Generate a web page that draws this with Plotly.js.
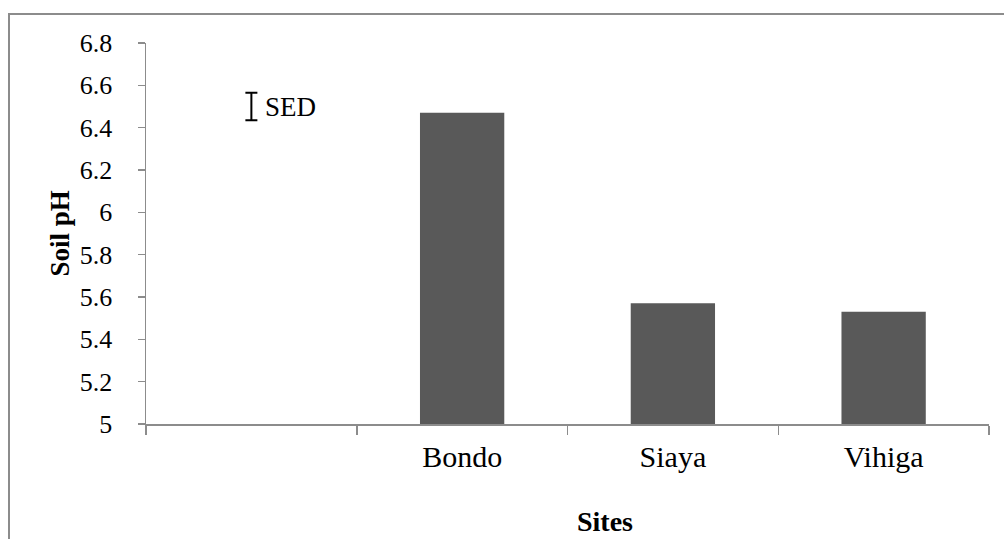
<!DOCTYPE html>
<html>
<head>
<meta charset="utf-8">
<script src="https://cdn.plot.ly/plotly-3.0.1.min.js"></script>
<style>
  html, body { margin: 0; padding: 0; background: #ffffff; }
  #wrap { position: relative; width: 1004px; height: 539px; overflow: hidden; }
  #chart { position: absolute; left: 0; top: 0; width: 1004px; height: 539px; }
  #frame { position: absolute; left: 8px; top: 13px; width: 1100px; height: 700px;
           border-left: 2px solid #8c8c8c; border-top: 2px solid #8c8c8c; pointer-events: none; }
</style>
</head>
<body>
<div id="wrap">
  <div id="chart"></div>
  <div id="frame"></div>
</div>
<script>
// ---- data ----
const categories = [" ", "Bondo", "Siaya", "Vihiga"];
const soilPH = [null, 6.47, 5.57, 5.53];
const sedCategory = [" "];
const sedCentre = [6.5];
const sedHalf = [0.065];
const sedLabel = "SED";
const yTitle = "Soil pH";
const xTitle = "Sites";

const serif = "Liberation Serif";
const axisGray = "#8c8c8c";

const traces = [
  {
    type: "bar",
    x: categories,
    y: soilPH,
    marker: { color: "#595959", line: { width: 0 } },
    hoverinfo: "x+y",
    showlegend: false
  },
  {
    type: "scatter",
    mode: "markers",
    x: sedCategory,
    y: sedCentre,
    marker: { size: 1, opacity: 0 },
    error_y: { type: "data", array: sedHalf, visible: true, color: "#000000", thickness: 2, width: 6 },
    showlegend: false,
    hoverinfo: "skip"
  }
];

const layout = {
  width: 1004,
  height: 539,
  margin: { l: 146, r: 15, t: 43, b: 115 },
  paper_bgcolor: "#ffffff",
  plot_bgcolor: "#ffffff",
  font: { family: serif, color: "#000000" },
  bargap: 0.6,
  showlegend: false,
  xaxis: {
    type: "category",
    categoryorder: "array",
    categoryarray: categories,
    range: [-0.5, 3.5],
    showline: true,
    linecolor: axisGray,
    linewidth: 1.5,
    ticks: "outside",
    tickson: "boundaries",
    ticklen: 9,
    tickcolor: axisGray,
    tickwidth: 1.5,
    showgrid: false,
    zeroline: false,
    tickfont: { family: serif, size: 30, color: "#000000" },
    ticklabelstandoff: 5
  },
  yaxis: {
    range: [5, 6.8],
    tick0: 5,
    dtick: 0.2,
    showline: true,
    linecolor: axisGray,
    linewidth: 1.5,
    ticks: "outside",
    ticklen: 7,
    tickcolor: axisGray,
    tickwidth: 1.5,
    showgrid: false,
    zeroline: false,
    tickfont: { family: serif, size: 26, color: "#000000" },
    ticklabelstandoff: 20
  },
  annotations: [
    {
      text: sedLabel, xref: "x", yref: "y", x: 0, y: sedCentre[0],
      xanchor: "left", yanchor: "middle", xshift: 12, showarrow: false,
      font: { family: serif, size: 27, color: "#000000" }
    },
    {
      text: "<b>" + yTitle + "</b>", xref: "paper", yref: "paper", x: 0, y: 0.5,
      xanchor: "center", yanchor: "middle", xshift: -87, textangle: -90, showarrow: false,
      font: { family: serif, size: 27, color: "#000000" }
    },
    {
      text: "<b>" + xTitle + "</b>", xref: "paper", yref: "paper", x: 0, y: 0,
      xanchor: "center", yanchor: "middle", xshift: 459, yshift: -97, showarrow: false,
      font: { family: serif, size: 28, color: "#000000" }
    }
  ]
};

Plotly.newPlot("chart", traces, layout, { displayModeBar: false, staticPlot: true });
</script>
</body>
</html>
